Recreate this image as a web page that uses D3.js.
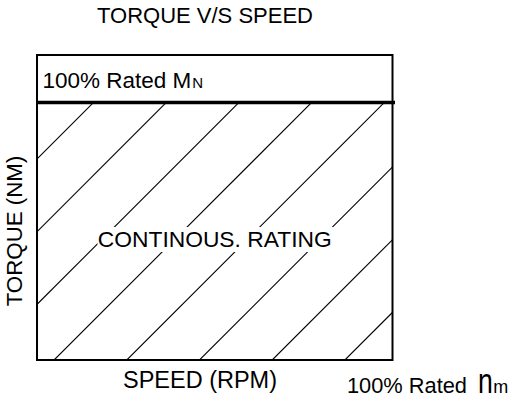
<!DOCTYPE html>
<html>
<head>
<meta charset="utf-8">
<script src="https://cdn.jsdelivr.net/npm/d3@7"></script>
<style>
  body { margin: 0; background: #fff; }
  svg { display: block; }
  text { font-family: Arial, "Liberation Sans", sans-serif; fill: #000; }
</style>
</head>
<body>
<svg width="514" height="401"></svg>
<script>

// chart values
var speedDomain = [0, 100];      // % of rated speed
var torqueDomain = [0, 118.5];   // % of rated torque, top of frame
var ratedTorque = 100;           // 100% Mn line
var titleText = "TORQUE V/S SPEED";
var xLabel = "SPEED (RPM)";
var yLabel = "TORQUE (NM)";
var regionLabel = "CONTINOUS. RATING";
var torqueLabel = ["100% Rated M", "N"];
var speedLabel = ["100% Rated", "n", "m"];

function drawGraphic() {

  var svg = d3.select("svg"),
    margin = {top: 55, right: 121.5, bottom: 41, left: 37};

  var width = 514 - margin.left - margin.right,
    height = 401 - margin.top - margin.bottom;

  var x = d3.scaleLinear()
    .domain(speedDomain)
    .range([margin.left, margin.left + width]);

  var y = d3.scaleLinear()
    .domain(torqueDomain)
    .range([margin.top + height, margin.top]);

  var x0 = x(speedDomain[0]), x1 = x(speedDomain[1]),
    yb = y(0), yr = y(ratedTorque), yt = y(torqueDomain[1]);

  //hatch for continuous region, clipped to the region
  var defs = svg.append("defs");
  defs.append("clipPath").attr("id", "cont")
    .append("rect")
    .attr("x", x0).attr("y", yr)
    .attr("width", x1 - x0).attr("height", yb - yr);

  var step = 72.7, phase = 196;
  var hatch = svg.append("g").attr("clip-path", "url(#cont)");
  d3.range(phase, x1 + yb + step, step).forEach(function(c) {
    hatch.append("line")
      .attr("x1", c - yb).attr("y1", yb)
      .attr("x2", c - yr).attr("y2", yr)
      .attr("stroke", "#000")
      .attr("stroke-width", 1.1);
  });

  //white box behind region label
  var cx = (x0 + x1) / 2;
  svg.append("rect")
    .attr("x", 97.5).attr("y", 227)
    .attr("width", 236).attr("height", 25)
    .attr("fill", "#fff");

  svg.append("text")
    .attr("x", cx).attr("y", 247)
    .attr("text-anchor", "middle")
    .style("font-size", "22.8px")
    .text(regionLabel);

  //frame
  svg.append("rect")
    .attr("x", x0).attr("y", yt)
    .attr("width", x1 - x0).attr("height", yb - yt)
    .attr("fill", "none")
    .attr("stroke", "#000")
    .attr("stroke-width", 2);

  //rated torque line
  svg.append("line")
    .attr("x1", x0 - 1).attr("x2", x1 + 2.5)
    .attr("y1", yr).attr("y2", yr)
    .attr("stroke", "#000")
    .attr("stroke-width", 3.5);

  //title
  svg.append("text")
    .attr("x", 205).attr("y", 23)
    .attr("text-anchor", "middle")
    .style("font-size", "22px")
    .text(titleText);

  //rated torque label
  var tl = svg.append("text")
    .attr("x", x0 + 5.5).attr("y", 88)
    .style("font-size", "22.5px");
  tl.append("tspan").text(torqueLabel[0]);
  tl.append("tspan").style("font-size", "15px").attr("dx", 1).text(torqueLabel[1]);

  //axis labels
  svg.append("text")
    .attr("transform", "translate(22," + 231 + ") rotate(-90)")
    .attr("text-anchor", "middle")
    .style("font-size", "22.3px")
    .text(yLabel);

  svg.append("text")
    .attr("x", 200).attr("y", 388)
    .attr("text-anchor", "middle")
    .style("font-size", "23.5px")
    .text(xLabel);

  //rated speed label
  svg.append("text")
    .attr("x", 347).attr("y", 393)
    .style("font-size", "21.8px")
    .text(speedLabel[0]);

  var nx = 478;
  var nBig = svg.append("text")
    .attr("transform", "translate(" + nx + ",393) scale(0.74,1)")
    .style("font-size", "36px")
    .text(speedLabel[1]);
  var nEnd = nBig.node().getComputedTextLength() * 0.74;

  svg.append("text")
    .attr("x", nx + nEnd + 0.5).attr("y", 393)
    .style("font-size", "18px")
    .text(speedLabel[2]);
}

drawGraphic();
</script>
</body>
</html>
